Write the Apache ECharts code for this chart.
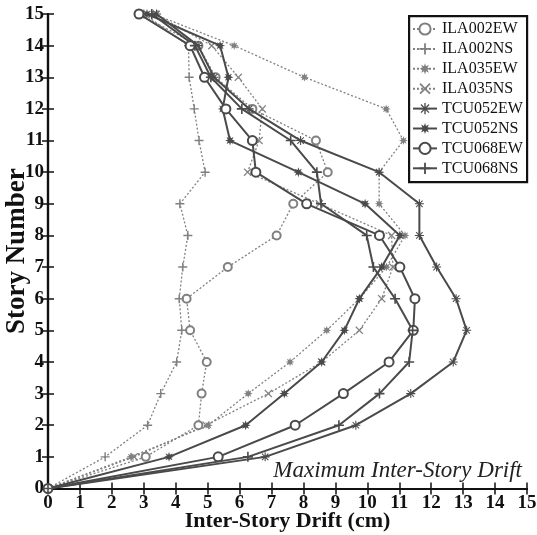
<!DOCTYPE html>
<html>
<head>
<meta charset="utf-8">
<script src="https://cdn.jsdelivr.net/npm/echarts@6/dist/echarts.min.js"></script>
<style>
html,body{margin:0;padding:0;background:#fff;}
#chart{width:537px;height:535px;}
</style>
</head>
<body>
<div id="chart"></div>
<script>
// Story numbers (y values)
var stories = [0,1,2,3,4,5,6,7,8,9,10,11,12,13,14,15];
// Maximum inter-story drift (cm) for each story, per record
var ILA002EW = [0,3.06,4.71,4.81,4.97,4.45,4.34,5.63,7.16,7.68,8.76,8.39,6.40,5.25,4.71,2.85];
var ILA002NS = [0,1.79,3.12,3.53,4.03,4.19,4.11,4.22,4.38,4.13,4.92,4.73,4.58,4.42,4.40,3.00];
var ILA035EW = [0,2.60,5.02,6.27,7.58,8.73,9.75,10.60,11.18,10.37,10.37,11.13,10.59,8.03,5.83,3.30];
var ILA035NS = [0,2.70,4.95,6.90,8.57,9.75,10.45,10.80,10.76,8.50,6.25,6.61,6.71,5.96,5.13,3.35];
var TCU052EW = [0,6.80,9.64,11.36,12.69,13.11,12.78,12.17,11.63,11.63,10.37,7.91,6.30,5.20,4.70,3.40];
var TCU052NS = [0,3.79,6.19,7.40,8.57,9.28,9.75,10.45,11.02,9.93,7.84,5.70,5.47,5.65,5.39,3.10];
var TCU068EW = [0,5.33,7.74,9.25,10.68,11.44,11.49,11.02,10.38,8.10,6.51,6.40,5.57,4.90,4.45,2.85];
var TCU068NS = [0,6.26,9.11,10.38,11.31,11.42,10.87,10.19,9.98,8.55,8.42,7.60,6.07,5.10,4.60,3.25];
var seriesNames = ['ILA002EW','ILA002NS','ILA035EW','ILA035NS','TCU052EW','TCU052NS','TCU068EW','TCU068NS'];
var seriesValues = [ILA002EW,ILA002NS,ILA035EW,ILA035NS,TCU052EW,TCU052NS,TCU068EW,TCU068NS];
var xTicks = [0,1,2,3,4,5,6,7,8,9,10,11,12,13,14,15];
var yTicks = [0,1,2,3,4,5,6,7,8,9,10,11,12,13,14,15];

var PLUS = 'path://M4.2,0H5.8V4.2H10V5.8H5.8V10H4.2V5.8H0V4.2H4.2Z';
var CROSS = 'path://M1.1,0L5,3.9L8.9,0L10,1.1L6.1,5L10,8.9L8.9,10L5,6.1L1.1,10L0,8.9L3.9,5L0,1.1Z';
var STAR = 'path://M5,0L5.9,2.8L8.5,1.5L7.2,4.1L10,5L7.2,5.9L8.5,8.5L5.9,7.2L5,10L4.1,7.2L1.5,8.5L2.8,5.9L0,5L2.8,4.1L1.5,1.5L4.1,2.8Z';
var ASTER = 'path://M4.4,0H5.6V3.6L8.2,1L9,1.8L6.4,4.4H10V5.6H6.4L9,8.2L8.2,9L5.6,6.4V10H4.4V6.4L1.8,9L1,8.2L3.6,5.6H0V4.4H3.6L1,1.8L1.8,1L4.4,3.6Z';

var styles = [
  {sym:'emptyCircle', size:8, dash:true},
  {sym:PLUS, size:9, dash:true},
  {sym:STAR, size:9, dash:true},
  {sym:CROSS, size:8, dash:true},
  {sym:ASTER, size:9, dash:false},
  {sym:STAR, size:10, dash:false},
  {sym:'emptyCircle', size:9, dash:false},
  {sym:PLUS, size:10, dash:false}
];

var series = seriesNames.map(function(n, k){
  var st = styles[k];
  var col = st.dash ? '#808080' : '#4a4a4a';
  return {
    name: n,
    type: 'line',
    data: seriesValues[k].map(function(x, i){ return [x, stories[i]]; }),
    symbol: st.sym,
    symbolSize: st.size,
    showAllSymbol: true,
    lineStyle: {color: col, width: st.dash ? 1.3 : 2, type: st.dash ? [2,2] : 'solid'},
    itemStyle: {color: col, borderColor: col, borderWidth: st.sym === 'emptyCircle' ? 1.3 : 0},
    emphasis: {disabled: true},
    z: st.dash ? 2 : 3
  };
});

var serif = '"Liberation Serif","Times New Roman",serif';
var chart = echarts.init(document.getElementById('chart'), null, {renderer:'canvas'});
chart.setOption({
  animation: false,
  backgroundColor: '#fff',
  grid: {left: 48, right: 10, top: 14, bottom: 46.5, containLabel: false, outerBoundsMode: 'none'},
  legend: {
    orient: 'vertical',
    left: 412,
    top: 21,
    z: 20,
    itemWidth: 24,
    itemHeight: 14,
    itemGap: 3.9,
    padding: 0,
    textStyle: {fontFamily: serif, fontSize: 16, color: '#111', lineHeight: 14},
    data: seriesNames
  },
  xAxis: [{
    type: 'value', min: 0, max: 15, interval: 1,
    name: 'Inter-Story Drift (cm)', nameLocation: 'middle', nameGap: 22, nameMoveOverlap: false,
    nameTextStyle: {fontFamily: serif, fontSize: 22, fontWeight: 'bold', color: '#111'},
    axisLine: {lineStyle: {color: '#111', width: 2.2}},
    axisTick: {inside: true, length: 6, lineStyle: {color: '#111', width: 1.5}},
    axisLabel: {fontFamily: serif, fontSize: 19, fontWeight: 'bold', color: '#111', margin: 5,
      formatter: function(v){ return xTicks.indexOf(v) >= 0 ? String(v) : ''; }},
    splitLine: {show: false}
  },{
    type: 'value', min: 0, max: 15, interval: 1, position: 'top',
    axisLine: {lineStyle: {color: '#111', width: 2.2}},
    axisTick: {inside: true, length: 6, lineStyle: {color: '#111', width: 1.5}},
    axisLabel: {show: false}, splitLine: {show: false}
  }],
  yAxis: [{
    type: 'value', min: 0, max: 15, interval: 1,
    name: 'Story Number', nameLocation: 'middle', nameGap: 17, nameRotate: 90, nameMoveOverlap: false,
    nameTextStyle: {fontFamily: serif, fontSize: 27, fontWeight: 'bold', color: '#111'},
    axisLine: {lineStyle: {color: '#111', width: 2.2}},
    axisTick: {inside: true, length: 6, lineStyle: {color: '#111', width: 1.5}},
    axisLabel: {fontFamily: serif, fontSize: 19, fontWeight: 'bold', color: '#111', margin: 4,
      formatter: function(v){ return yTicks.indexOf(v) >= 0 ? String(v) : ''; }},
    splitLine: {show: false}
  },{
    type: 'value', min: 0, max: 15, interval: 1, position: 'right',
    axisLine: {lineStyle: {color: '#111', width: 2.2}},
    axisTick: {inside: true, length: 6, lineStyle: {color: '#111', width: 1.5}},
    axisLabel: {show: false}, splitLine: {show: false}
  }],
  graphic: [
    {type: 'rect', left: 408, top: 15, shape: {width: 118, height: 166},
     style: {fill: '#fff', stroke: '#111', lineWidth: 2.2}, z: 5, silent: true},
    {type: 'text', right: 15, top: 459,
     style: {text: 'Maximum Inter-Story Drift', fontFamily: serif, fontSize: 23, fontStyle: 'italic', fill: '#222'},
     z: 6, silent: true}
  ],
  series: series
});
</script>
</body>
</html>
